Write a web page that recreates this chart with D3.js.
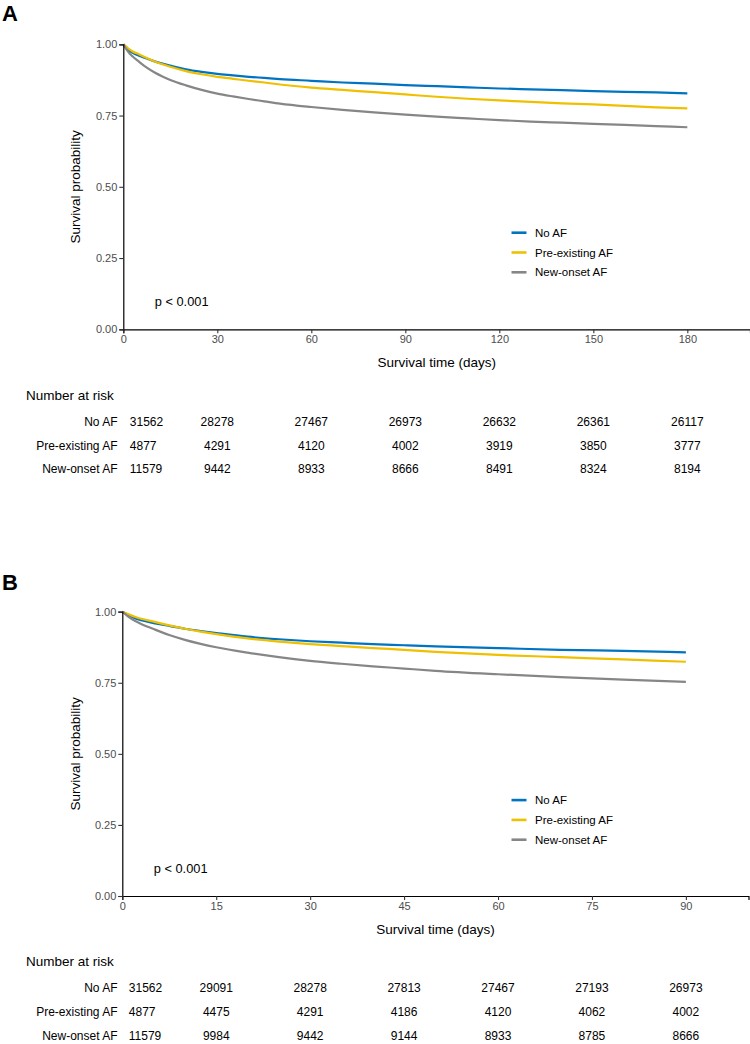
<!DOCTYPE html>
<html>
<head>
<meta charset="utf-8">
<script src="https://cdn.jsdelivr.net/npm/d3@7"></script>
<style>
  html, body { margin: 0; padding: 0; background: #fff; }
  svg { display: block; }
  text { font-family: "Liberation Sans", Arial, sans-serif; }
</style>
</head>
<body>
<svg id="chart" width="750" height="1044"></svg>
<script>
// ---------------- data ----------------
const groups = ["No AF", "Pre-existing AF", "New-onset AF"];
const colors = ["#0073C2", "#EFC000", "#868686"];

const days   = [0, 1, 2, 3, 5, 7.5, 10, 12.5, 15, 20, 25, 30, 35, 40, 45, 50, 60, 70, 80, 90, 100, 110, 120, 130, 140, 150, 160, 170, 180];
const noAF   = [1, 0.988, 0.977, 0.970, 0.960, 0.950, 0.940, 0.932, 0.925, 0.912, 0.903, 0.896, 0.891, 0.886, 0.882, 0.878, 0.872, 0.866, 0.862, 0.857, 0.853, 0.849, 0.845, 0.842, 0.839, 0.836, 0.833, 0.831, 0.828];
const preAF  = [1, 0.991, 0.982, 0.975, 0.965, 0.952, 0.940, 0.930, 0.921, 0.906, 0.895, 0.886, 0.879, 0.872, 0.866, 0.859, 0.848, 0.840, 0.832, 0.824, 0.816, 0.809, 0.803, 0.798, 0.793, 0.789, 0.784, 0.779, 0.775];
const newAF  = [1, 0.982, 0.968, 0.957, 0.939, 0.918, 0.901, 0.887, 0.875, 0.856, 0.840, 0.827, 0.817, 0.808, 0.800, 0.792, 0.780, 0.770, 0.761, 0.753, 0.746, 0.740, 0.734, 0.729, 0.725, 0.721, 0.717, 0.713, 0.709];

const yTicks = [0, 0.25, 0.5, 0.75, 1];

const ticksA = [0, 30, 60, 90, 120, 150, 180];
const riskA_noAF  = [31562, 28278, 27467, 26973, 26632, 26361, 26117];
const riskA_preAF = [4877, 4291, 4120, 4002, 3919, 3850, 3777];
const riskA_newAF = [11579, 9442, 8933, 8666, 8491, 8324, 8194];

const ticksB = [0, 15, 30, 45, 60, 75, 90];
const riskB_noAF  = [31562, 29091, 28278, 27813, 27467, 27193, 26973];
const riskB_preAF = [4877, 4475, 4291, 4186, 4120, 4062, 4002];
const riskB_newAF = [11579, 9984, 9442, 9144, 8933, 8785, 8666];

const series = [noAF, preAF, newAF];

// ---------------- drawing ----------------
const svg = d3.select("#chart");

function drawPanel(cfg) {
  const g = svg.append("g");
  const x = d3.scaleLinear().domain([0, cfg.xmax]).range([cfg.left, cfg.right]);
  const y = d3.scaleLinear().domain([0, 1]).range([cfg.bottom, cfg.top]);

  // panel letter
  g.append("text").attr("x", 2).attr("y", cfg.letterY)
    .attr("font-family", "'Open Sans', 'DejaVu Sans', sans-serif")
    .attr("font-weight", 700).attr("font-size", 22).attr("fill", "#000")
    .text(cfg.letter);

  // curves
  const line = d3.line().x(d => x(d[0])).y(d => y(d[1])).curve(d3.curveMonotoneX);
  series.forEach((vals, i) => {
    const pts = days.map((d, k) => [d, vals[k]]).filter(p => p[0] <= cfg.tmax);
    g.append("path").datum(pts).attr("d", line)
      .attr("fill", "none").attr("stroke", colors[i]).attr("stroke-width", 2.2)
      .attr("stroke-linejoin", "round");
  });

  // axes
  const yAxis = d3.axisLeft(y).tickValues(yTicks).tickFormat(d3.format(".2f"))
    .tickSizeOuter(0).tickSize(4).tickPadding(2);
  const ya = g.append("g").attr("transform", `translate(${cfg.left},0)`).call(yAxis);
  const xAxis = d3.axisBottom(x).tickValues(cfg.ticks).tickFormat(d3.format("d"))
    .tickSizeOuter(0).tickSize(4).tickPadding(2);
  const xa = g.append("g").attr("transform", `translate(0,${cfg.bottom})`).call(xAxis);
  [ya, xa].forEach(a => {
    a.select(".domain").attr("stroke", "#000").attr("stroke-width", 1.2);
    a.selectAll(".tick line").attr("stroke", "#333").attr("stroke-width", 1.1);
    a.selectAll(".tick text").attr("fill", "#4D4D4D").attr("font-size", 11)
      .attr("font-family", "'Liberation Sans', Arial, sans-serif");
  });

  // axis titles
  g.append("text").attr("transform", `translate(${75},${(cfg.top + cfg.bottom) / 2}) rotate(-90)`)
    .attr("text-anchor", "middle").attr("dy", "0.35em").attr("font-size", 13.5).attr("fill", "#000")
    .text("Survival probability");
  g.append("text").attr("x", (cfg.left + cfg.right) / 2).attr("y", cfg.xTitleY)
    .attr("text-anchor", "middle").attr("dy", "0.35em").attr("font-size", 13.5).attr("fill", "#000")
    .text("Survival time (days)");

  // p value
  g.append("text").attr("x", cfg.left + 31.5).attr("y", cfg.top + 257)
    .attr("dy", "0.35em").attr("font-size", 12.8).attr("fill", "#000").text("p < 0.001");

  // legend
  const lg = g.append("g").attr("transform", `translate(511.5,${cfg.top + 188.4})`);
  groups.forEach((name, i) => {
    lg.append("line").attr("x1", 0).attr("x2", 15).attr("y1", i * 19.8).attr("y2", i * 19.8)
      .attr("stroke", colors[i]).attr("stroke-width", 2.6);
    lg.append("text").attr("x", 23.5).attr("y", i * 19.8).attr("dy", "0.35em")
      .attr("font-size", 11.5).attr("fill", "#000").text(name);
  });

  // risk table
  g.append("text").attr("x", 26).attr("y", cfg.tableTitleY).attr("dy", "0.35em")
    .attr("font-size", 13.5).attr("fill", "#000").text("Number at risk");
  cfg.risk.forEach((row, i) => {
    const ry = cfg.tableRowY[i];
    g.append("text").attr("x", 117.5).attr("y", ry).attr("dy", "0.35em")
      .attr("text-anchor", "end").attr("font-size", 12).attr("fill", "#000").text(groups[i]);
    row.forEach((v, k) => {
      const t = cfg.ticks[k];
      g.append("text")
        .attr("x", k === 0 ? x(t) + 6.5 : x(t))
        .attr("text-anchor", k === 0 ? "start" : "middle")
        .attr("y", ry).attr("dy", "0.35em").attr("font-size", 12).attr("fill", "#000")
        .text(v);
    });
  });
}

drawPanel({
  letter: "A", letterY: 21,
  xmax: 200, tmax: 180, left: 123.3, right: 750, top: 44.3, bottom: 329.3,
  ticks: ticksA, xTitleY: 362.7,
  tableTitleY: 395.7, tableRowY: [422, 445.5, 469],
  risk: [riskA_noAF, riskA_preAF, riskA_newAF]
});

drawPanel({
  letter: "B", letterY: 589.5,
  xmax: 100, tmax: 90, left: 122.3, right: 748.5, top: 611.7, bottom: 896,
  ticks: ticksB, xTitleY: 929.3,
  tableTitleY: 961.7, tableRowY: [988, 1012, 1036],
  risk: [riskB_noAF, riskB_preAF, riskB_newAF]
});
</script>
</body>
</html>
